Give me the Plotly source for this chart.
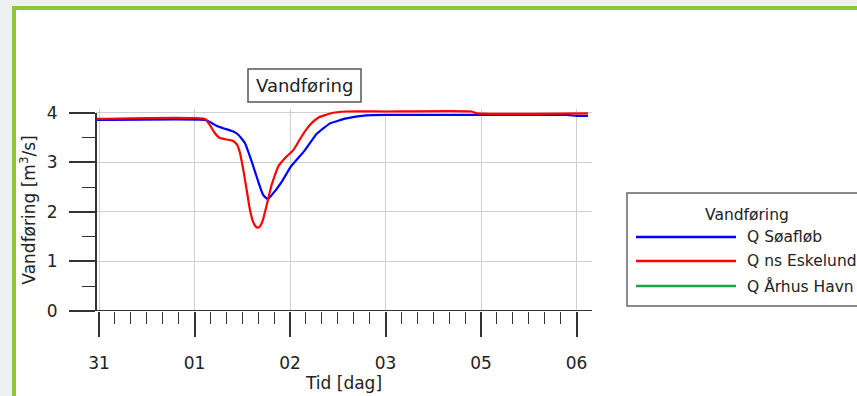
import plotly.graph_objects as go

# Time axis: days since 31st 00:00
tick_days = [0, 1, 2, 3, 4, 5]
tick_labels = ["31", "01", "02", "03", "05", "06"]

# Q Søafløb
t_soafloeb = [-0.03, 1.11, 1.16, 1.23, 1.30, 1.40, 1.459, 1.529, 1.599, 1.668, 1.72,
              1.767, 1.808, 1.913, 2.01, 2.157, 2.28, 2.42, 2.59, 2.80, 3.0, 4.0,
              4.9, 5.0, 5.12]
q_soafloeb = [3.86, 3.86, 3.82, 3.74, 3.69, 3.63, 3.56, 3.39, 3.02, 2.61, 2.34,
              2.26, 2.34, 2.61, 2.92, 3.25, 3.58, 3.79, 3.89, 3.95, 3.96, 3.96,
              3.96, 3.94, 3.94]

# Q ns Eskelund
t_eskelund = [-0.03, 1.11, 1.16, 1.21, 1.26, 1.32, 1.40, 1.445, 1.476, 1.511, 1.547,
              1.581, 1.612, 1.64, 1.668, 1.69, 1.715, 1.756, 1.808, 1.877, 1.93, 1.965,
              2.035, 2.12, 2.175, 2.24, 2.30, 2.42, 2.59, 3.0, 3.9, 3.96, 5.12]
q_eskelund = [3.88, 3.88, 3.76, 3.60, 3.50, 3.47, 3.44, 3.36, 3.19, 2.85, 2.44,
              2.04, 1.81, 1.71, 1.685, 1.72, 1.83, 2.14, 2.55, 2.92, 3.05, 3.12,
              3.25, 3.52, 3.68, 3.82, 3.91, 3.99, 4.03, 4.03, 4.03, 3.99, 3.99]

# Q Århus Havn (no values in this period)
t_aarhus = []
q_aarhus = []

series_names = ["Q Søafløb", "Q ns Eskelund", "Q Århus Havn"]
series_colors = ["#0000ff", "#ff0000", "#1fa34a"]

FONT = "DejaVu Sans, Verdana, sans-serif"
TEXT = "#222222"

W, H = 857, 396
L, R_EDGE = 96, 592
TOP, BOTTOM = 109, 311
X_RANGE = [-3 / 95.5, (R_EDGE - 99) / 95.5]
Y_RANGE = [0, 4.08]


def px_x(px):
    return (px - L) / (R_EDGE - L)


def px_y(py):
    return (BOTTOM - py) / (BOTTOM - TOP)


fig = go.Figure()
for t, q, name, color in zip([t_soafloeb, t_eskelund, t_aarhus],
                             [q_soafloeb, q_eskelund, q_aarhus],
                             series_names, series_colors):
    fig.add_trace(go.Scatter(x=t, y=q, name=name, mode="lines",
                             line=dict(color=color, width=2.2, shape="spline", smoothing=0.4),
                             showlegend=False))

axis_color = "#333333"
grid_color = "#cfcfcf"

fig.update_xaxes(
    range=X_RANGE, tickmode="array", tickvals=tick_days, ticktext=tick_labels,
    showgrid=True, gridcolor=grid_color, gridwidth=1,
    ticks="outside", ticklen=25, tickwidth=1.5, tickcolor=axis_color,
    ticklabelstandoff=12,
    minor=dict(tickmode="linear", tick0=0, dtick=1 / 6, ticks="outside", ticklen=12,
               tickwidth=1.2, tickcolor=axis_color, showgrid=False),
    showline=False, zeroline=False,
    tickfont=dict(family=FONT, size=17, color=TEXT),
    title=dict(text="Tid [dag]", font=dict(family=FONT, size=17, color=TEXT), standoff=0),
)
fig.update_yaxes(
    range=Y_RANGE, tickmode="array", tickvals=[0, 1, 2, 3, 4],
    showgrid=True, gridcolor=grid_color, gridwidth=1,
    ticks="outside", ticklen=26, tickwidth=1.5, tickcolor=axis_color,
    ticklabelstandoff=8,
    minor=dict(tickmode="linear", tick0=0, dtick=0.5, ticks="outside", ticklen=13,
               tickwidth=1.2, tickcolor=axis_color, showgrid=False),
    showline=False, zeroline=False,
    tickfont=dict(family=FONT, size=17, color=TEXT),
    title=dict(text="Vandføring [m<sup>3</sup>/s]", font=dict(family=FONT, size=17, color=TEXT),
               standoff=6),
)

shapes = [
    # white panel with green frame
    dict(type="rect", xref="paper", yref="paper", layer="below",
         x0=px_x(14), x1=px_x(900), y0=px_y(440), y1=px_y(8),
         line=dict(color="#8cc63f", width=4), fillcolor="white"),
    # y axis line
    dict(type="line", xref="paper", yref="y", x0=0, x1=0, y0=0, y1=4,
         line=dict(color=axis_color, width=2)),
    # x axis line, running past the y axis
    dict(type="line", xref="paper", yref="y", x0=px_x(70), x1=1, y0=0, y1=0,
         line=dict(color=axis_color, width=2)),
    # title box
    dict(type="rect", xref="paper", yref="paper",
         x0=px_x(248), x1=px_x(361), y0=px_y(102), y1=px_y(69),
         line=dict(color="#555555", width=1.5), fillcolor="white"),
    # legend box
    dict(type="rect", xref="paper", yref="paper",
         x0=px_x(627), x1=px_x(900), y0=px_y(306), y1=px_y(193),
         line=dict(color="#666666", width=1.5), fillcolor="white"),
]

annotations = [
    dict(text="Vandføring", xref="paper", yref="paper", x=px_x(304.5), y=px_y(86),
         showarrow=False, font=dict(family=FONT, size=18, color=TEXT),
         xanchor="center", yanchor="middle"),
    dict(text="Vandføring", xref="paper", yref="paper", x=px_x(747), y=px_y(215),
         showarrow=False, font=dict(family=FONT, size=15.5, color=TEXT),
         xanchor="center", yanchor="middle"),
]

legend_rows = [237, 261, 286]
for name, color, row in zip(series_names, series_colors, legend_rows):
    shapes.append(dict(type="line", xref="paper", yref="paper",
                       x0=px_x(636), x1=px_x(736), y0=px_y(row), y1=px_y(row),
                       line=dict(color=color, width=2.5)))
    annotations.append(dict(text=name, xref="paper", yref="paper", x=px_x(745), y=px_y(row),
                            showarrow=False, font=dict(family=FONT, size=15.5, color=TEXT),
                            xanchor="left", yanchor="middle"))

fig.update_layout(
    width=W, height=H,
    margin=dict(l=L, r=W - R_EDGE, t=TOP, b=H - BOTTOM, autoexpand=False),
    paper_bgcolor="#eef1f1", plot_bgcolor="white",
    shapes=shapes, annotations=annotations,
    showlegend=False,
)

fig.write_html("out.html")
